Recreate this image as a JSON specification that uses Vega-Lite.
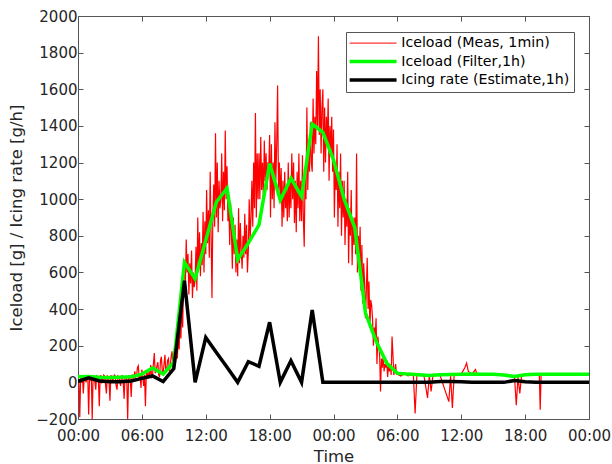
{
  "$schema": "https://vega.github.io/schema/vega-lite/v6.json",
  "width": 511,
  "height": 403,
  "autosize": {"type": "none"},
  "padding": {"left": 78, "top": 16, "right": 23, "bottom": 45},
  "background": "white",
  "config": {
    "view": {"stroke": null},
    "font": "DejaVu Sans",
    "axis": {
      "domainColor": "#555555",
      "tickColor": "#555555",
      "labelColor": "#262626",
      "titleColor": "#262626",
      "labelFont": "DejaVu Sans",
      "titleFont": "DejaVu Sans",
      "labelFontSize": 15,
      "titleFontSize": 16.5,
      "titleFontWeight": "normal",
      "grid": false,
      "tickSize": -5,
      "domainWidth": 1,
      "tickWidth": 1
    }
  },
  "datasets": {
    "meas": [
      {"t":0,"v":35},{"t":5,"v":10},{"t":10,"v":-190},{"t":15,"v":30},{"t":20,"v":5},{"t":25,"v":40},{"t":30,"v":-60},{"t":35,"v":30},{"t":40,"v":35},{"t":45,"v":0},{"t":50,"v":20},{"t":55,"v":40},
      {"t":60,"v":-175},{"t":65,"v":30},{"t":70,"v":10},{"t":75,"v":35},{"t":80,"v":-200},{"t":85,"v":30},{"t":90,"v":35},{"t":95,"v":5},{"t":100,"v":-40},{"t":105,"v":35},{"t":110,"v":30},{"t":115,"v":15},
      {"t":120,"v":-130},{"t":125,"v":35},{"t":130,"v":35},{"t":135,"v":0},{"t":140,"v":10},{"t":145,"v":40},{"t":150,"v":35},{"t":155,"v":-10},{"t":160,"v":-60},{"t":165,"v":35},{"t":170,"v":30},{"t":175,"v":10},
      {"t":180,"v":-100},{"t":185,"v":35},{"t":190,"v":35},{"t":195,"v":5},{"t":200,"v":20},{"t":205,"v":40},{"t":210,"v":35},{"t":215,"v":-20},{"t":220,"v":-40},{"t":225,"v":35},{"t":230,"v":30},{"t":235,"v":10},
      {"t":240,"v":-20},{"t":245,"v":35},{"t":250,"v":35},{"t":255,"v":0},{"t":260,"v":-90},{"t":265,"v":30},{"t":270,"v":30},{"t":275,"v":15},{"t":280,"v":-200},{"t":285,"v":35},{"t":290,"v":35},{"t":295,"v":10},
      {"t":300,"v":-80},{"t":305,"v":40},{"t":310,"v":40},{"t":315,"v":20},{"t":320,"v":60},{"t":325,"v":30},{"t":330,"v":35},{"t":335,"v":80},{"t":340,"v":90},{"t":345,"v":20},{"t":350,"v":40},{"t":355,"v":-30},
      {"t":360,"v":70},{"t":365,"v":30},{"t":370,"v":-20},{"t":375,"v":40},{"t":380,"v":-130},{"t":385,"v":50},{"t":390,"v":50},{"t":395,"v":20},{"t":400,"v":60},{"t":405,"v":40},{"t":410,"v":95},{"t":415,"v":30},
      {"t":420,"v":40},{"t":425,"v":100},{"t":430,"v":160},{"t":435,"v":50},{"t":440,"v":60},{"t":445,"v":90},{"t":450,"v":110},{"t":455,"v":40},{"t":460,"v":30},{"t":465,"v":120},{"t":470,"v":140},{"t":475,"v":60},
      {"t":480,"v":50},{"t":485,"v":100},{"t":490,"v":150},{"t":495,"v":60},{"t":500,"v":70},{"t":505,"v":120},{"t":510,"v":130},{"t":515,"v":60},{"t":520,"v":90},{"t":525,"v":140},{"t":530,"v":170},{"t":535,"v":80},
      {"t":540,"v":80},{"t":545,"v":150},{"t":550,"v":110},{"t":555,"v":200},{"t":560,"v":130},{"t":565,"v":260},{"t":570,"v":180},{"t":575,"v":330},{"t":580,"v":240},{"t":585,"v":420},{"t":590,"v":300},{"t":595,"v":560},
      {"t":600,"v":640},{"t":605,"v":520},{"t":610,"v":780},{"t":615,"v":600},{"t":620,"v":700},{"t":625,"v":480},{"t":630,"v":650},{"t":635,"v":540},{"t":640,"v":720},{"t":645,"v":460},{"t":650,"v":600},{"t":655,"v":520},
      {"t":660,"v":560},{"t":665,"v":740},{"t":670,"v":500},{"t":675,"v":900},{"t":680,"v":620},{"t":685,"v":820},{"t":690,"v":580},{"t":695,"v":760},{"t":700,"v":640},{"t":705,"v":930},{"t":710,"v":600},{"t":715,"v":880},
      {"t":720,"v":700},{"t":725,"v":1050},{"t":730,"v":760},{"t":735,"v":940},{"t":740,"v":680},{"t":745,"v":1150},{"t":750,"v":820},{"t":755,"v":460},{"t":760,"v":900},{"t":765,"v":1080},{"t":770,"v":850},{"t":775,"v":1360},
      {"t":780,"v":900},{"t":785,"v":1200},{"t":790,"v":820},{"t":795,"v":1100},{"t":800,"v":950},{"t":805,"v":1000},{"t":810,"v":1250},{"t":815,"v":880},{"t":820,"v":1150},{"t":825,"v":940},{"t":830,"v":1375},{"t":835,"v":1000},
      {"t":840,"v":1180},{"t":845,"v":880},{"t":850,"v":1000},{"t":855,"v":750},{"t":860,"v":980},{"t":865,"v":820},{"t":870,"v":620},{"t":875,"v":900},{"t":880,"v":700},{"t":885,"v":860},{"t":890,"v":600},{"t":895,"v":780},
      {"t":900,"v":580},{"t":905,"v":950},{"t":910,"v":650},{"t":915,"v":870},{"t":920,"v":720},{"t":925,"v":620},{"t":930,"v":800},{"t":935,"v":680},{"t":940,"v":920},{"t":945,"v":700},{"t":950,"v":860},{"t":955,"v":600},
      {"t":960,"v":720},{"t":965,"v":1000},{"t":970,"v":780},{"t":975,"v":900},{"t":980,"v":1100},{"t":985,"v":850},{"t":990,"v":1200},{"t":995,"v":950},{"t":1000,"v":1470},{"t":1005,"v":900},{"t":1010,"v":1250},{"t":1015,"v":1000},
      {"t":1020,"v":1250},{"t":1025,"v":1000},{"t":1030,"v":1340},{"t":1035,"v":1050},{"t":1040,"v":1200},{"t":1045,"v":1000},{"t":1050,"v":1320},{"t":1055,"v":1100},{"t":1060,"v":1250},{"t":1065,"v":1050},{"t":1070,"v":1200},{"t":1075,"v":1150},
      {"t":1080,"v":1350},{"t":1085,"v":900},{"t":1090,"v":1300},{"t":1095,"v":1000},{"t":1100,"v":1200},{"t":1105,"v":950},{"t":1110,"v":1420},{"t":1115,"v":1100},{"t":1120,"v":1300},{"t":1125,"v":1620},{"t":1130,"v":1050},{"t":1135,"v":1200},
      {"t":1140,"v":1000},{"t":1145,"v":1170},{"t":1150,"v":850},{"t":1155,"v":1100},{"t":1160,"v":900},{"t":1165,"v":1150},{"t":1170,"v":950},{"t":1175,"v":1050},{"t":1180,"v":880},{"t":1185,"v":1200},{"t":1190,"v":900},{"t":1195,"v":1100},
      {"t":1200,"v":950},{"t":1205,"v":1250},{"t":1210,"v":1000},{"t":1215,"v":1200},{"t":1220,"v":870},{"t":1225,"v":1100},{"t":1230,"v":820},{"t":1235,"v":1150},{"t":1240,"v":950},{"t":1245,"v":1250},{"t":1250,"v":880},{"t":1255,"v":1100},
      {"t":1260,"v":880},{"t":1265,"v":1240},{"t":1270,"v":900},{"t":1275,"v":740},{"t":1280,"v":1150},{"t":1285,"v":1000},{"t":1290,"v":1500},{"t":1295,"v":1050},{"t":1300,"v":1300},{"t":1305,"v":1150},{"t":1310,"v":1420},{"t":1315,"v":1200},
      {"t":1320,"v":1150},{"t":1325,"v":1550},{"t":1330,"v":1250},{"t":1335,"v":1450},{"t":1340,"v":1300},{"t":1345,"v":1700},{"t":1350,"v":1400},{"t":1355,"v":1890},{"t":1360,"v":1350},{"t":1365,"v":1600},{"t":1370,"v":1250},{"t":1375,"v":1500},
      {"t":1380,"v":1600},{"t":1385,"v":1150},{"t":1390,"v":1500},{"t":1395,"v":1200},{"t":1400,"v":1450},{"t":1405,"v":1300},{"t":1410,"v":1550},{"t":1415,"v":1100},{"t":1420,"v":1400},{"t":1425,"v":1250},{"t":1430,"v":1450},{"t":1435,"v":1150},
      {"t":1440,"v":1380},{"t":1445,"v":900},{"t":1450,"v":1200},{"t":1455,"v":1050},{"t":1460,"v":1300},{"t":1465,"v":850},{"t":1470,"v":1150},{"t":1475,"v":950},{"t":1480,"v":1250},{"t":1485,"v":800},{"t":1490,"v":1100},{"t":1495,"v":900},
      {"t":1500,"v":1100},{"t":1505,"v":750},{"t":1510,"v":1000},{"t":1515,"v":850},{"t":1520,"v":1150},{"t":1525,"v":650},{"t":1530,"v":950},{"t":1535,"v":800},{"t":1540,"v":1050},{"t":1545,"v":640},{"t":1550,"v":900},{"t":1555,"v":750},
      {"t":1560,"v":900},{"t":1565,"v":700},{"t":1570,"v":1250},{"t":1575,"v":600},{"t":1580,"v":800},{"t":1585,"v":700},{"t":1590,"v":850},{"t":1595,"v":500},{"t":1600,"v":750},{"t":1605,"v":430},{"t":1610,"v":650},{"t":1615,"v":550},
      {"t":1620,"v":350},{"t":1625,"v":500},{"t":1630,"v":680},{"t":1635,"v":400},{"t":1640,"v":550},{"t":1645,"v":300},{"t":1650,"v":450},{"t":1655,"v":420},{"t":1660,"v":350},{"t":1665,"v":200},{"t":1670,"v":300},{"t":1675,"v":250},
      {"t":1680,"v":350},{"t":1685,"v":100},{"t":1690,"v":250},{"t":1695,"v":200},{"t":1700,"v":150},{"t":1705,"v":-50},{"t":1710,"v":130},{"t":1715,"v":80},{"t":1720,"v":150},{"t":1725,"v":60},{"t":1730,"v":100},{"t":1735,"v":80},
      {"t":1740,"v":120},{"t":1745,"v":30},{"t":1750,"v":90},{"t":1755,"v":60},{"t":1760,"v":100},{"t":1765,"v":40},{"t":1770,"v":250},{"t":1775,"v":150},{"t":1780,"v":40},{"t":1785,"v":70},{"t":1790,"v":100},{"t":1795,"v":45},
      {"t":1800,"v":45},{"t":1820,"v":35},{"t":1840,"v":50},{"t":1860,"v":35},{"t":1890,"v":45},{"t":1900,"v":-170},{"t":1910,"v":40},{"t":1950,"v":35},{"t":1970,"v":-85},{"t":1980,"v":40},{"t":1990,"v":-50},{"t":2000,"v":35},
      {"t":2040,"v":40},{"t":2090,"v":-105},{"t":2100,"v":35},{"t":2110,"v":-140},{"t":2120,"v":40},{"t":2160,"v":45},{"t":2180,"v":80},{"t":2190,"v":105},{"t":2200,"v":60},{"t":2220,"v":45},{"t":2240,"v":70},{"t":2250,"v":40},
      {"t":2280,"v":45},{"t":2340,"v":40},{"t":2400,"v":40},{"t":2460,"v":35},{"t":2470,"v":-125},{"t":2480,"v":30},{"t":2490,"v":-60},{"t":2500,"v":35},{"t":2520,"v":40},{"t":2600,"v":40},{"t":2605,"v":-150},{"t":2610,"v":40},
      {"t":2640,"v":40},{"t":2880,"v":40}
    ],
    "filt": [
      {"t":0,"v":30},{"t":60,"v":32},{"t":120,"v":28},{"t":180,"v":26},{"t":240,"v":28},{"t":300,"v":30},{"t":360,"v":45},{"t":420,"v":78},
      {"t":480,"v":45},{"t":540,"v":110},{"t":600,"v":655},{"t":660,"v":565},{"t":720,"v":775},{"t":780,"v":985},{"t":840,"v":1060},
      {"t":900,"v":670},{"t":960,"v":760},{"t":1020,"v":860},{"t":1080,"v":1195},{"t":1140,"v":995},{"t":1200,"v":1115},{"t":1260,"v":1015},
      {"t":1320,"v":1410},{"t":1380,"v":1365},{"t":1440,"v":1215},{"t":1500,"v":1000},{"t":1560,"v":845},{"t":1620,"v":380},{"t":1680,"v":225},
      {"t":1740,"v":105},{"t":1800,"v":50},{"t":1860,"v":45},{"t":1920,"v":42},{"t":1980,"v":38},{"t":2040,"v":42},{"t":2100,"v":43},
      {"t":2160,"v":44},{"t":2220,"v":45},{"t":2280,"v":44},{"t":2340,"v":44},{"t":2400,"v":40},{"t":2460,"v":32},{"t":2520,"v":42},
      {"t":2580,"v":44},{"t":2640,"v":44},{"t":2700,"v":44},{"t":2760,"v":44},{"t":2820,"v":44},{"t":2880,"v":44}
    ],
    "rate": [
      {"t":0,"v":5},{"t":60,"v":25},{"t":120,"v":8},{"t":180,"v":4},{"t":240,"v":4},{"t":300,"v":8},{"t":360,"v":22},{"t":420,"v":35},
      {"t":480,"v":4},{"t":540,"v":75},{"t":600,"v":555},{"t":660,"v":0},{"t":720,"v":245},{"t":780,"v":163},{"t":840,"v":82},
      {"t":900,"v":0},{"t":960,"v":113},{"t":1020,"v":88},{"t":1080,"v":328},{"t":1140,"v":0},{"t":1200,"v":118},{"t":1260,"v":0},
      {"t":1320,"v":395},{"t":1380,"v":0},{"t":1440,"v":0},{"t":1500,"v":0},{"t":1560,"v":0},{"t":1620,"v":0},{"t":1680,"v":0},
      {"t":1740,"v":0},{"t":1800,"v":0},{"t":1860,"v":0},{"t":1920,"v":0},{"t":1980,"v":0},{"t":2040,"v":5},{"t":2100,"v":5},
      {"t":2160,"v":3},{"t":2220,"v":0},{"t":2280,"v":0},{"t":2340,"v":0},{"t":2400,"v":0},{"t":2460,"v":10},{"t":2520,"v":3},
      {"t":2580,"v":0},{"t":2640,"v":0},{"t":2700,"v":0},{"t":2760,"v":0},{"t":2820,"v":0},{"t":2880,"v":0}
    ]
  },
  "layer": [
    {
      "data": {"name": "meas"},
      "mark": {"type": "line", "strokeWidth": 1.2, "clip": true},
      "encoding": {
        "x": {"field": "t", "type": "quantitative", "scale": {"domain": [0, 2880], "nice": false, "zero": false},
              "axis": {"orient": "bottom", "values": [0,360,720,1080,1440,1800,2160,2520,2880], "title": "Time",
                       "labelExpr": "(floor(datum.value/60) % 24 < 10 ? '0' : '') + (floor(datum.value/60) % 24) + ':00'",
                       "labelPadding": 14, "titlePadding": 5, "labelFlush": false}},
        "y": {"field": "v", "type": "quantitative", "scale": {"domain": [-200, 2000], "nice": false, "zero": false},
              "axis": {"orient": "left", "values": [-200,0,200,400,600,800,1000,1200,1400,1600,1800,2000], "format": "d",
                       "title": "Iceload [g] / Icing rate [g/h]", "labelPadding": 6, "titlePadding": 11}},
        "color": {"datum": "Iceload (Meas, 1min)", "type": "nominal",
                  "scale": {"domain": ["Iceload (Meas, 1min)", "Iceload (Filter,1h)", "Icing rate (Estimate,1h)"],
                            "range": ["#ff0000", "#00ff00", "#000000"]},
                  "legend": {"orient": "none", "legendX": 268, "legendY": 16, "title": null,
                             "symbolType": "stroke", "symbolSize": 2200, "symbolStrokeWidth": 3,
                             "symbolOffset": 16, "labelOffset": 21,
                             "labelFontSize": 14.2, "labelColor": "#000000", "labelFont": "DejaVu Sans", "labelLimit": 400,
                             "strokeColor": "#555555", "fillColor": "white", "padding": 4,
                             "rowPadding": 3.5,
                             "encode": {"symbols": {"update": {"strokeWidth": {"signal": "datum.value == 'Iceload (Meas, 1min)' ? 1 : 3.5"}}}}}}
      }
    },
    {
      "data": {"name": "filt"},
      "mark": {"type": "line", "strokeWidth": 3.5, "clip": true},
      "encoding": {
        "x": {"field": "t", "type": "quantitative",
              "axis": {"orient": "top", "values": [0,360,720,1080,1440,1800,2160,2520,2880], "labels": false, "title": null}},
        "y": {"field": "v", "type": "quantitative",
              "axis": {"orient": "right", "values": [-200,0,200,400,600,800,1000,1200,1400,1600,1800,2000], "labels": false, "title": null}},
        "color": {"datum": "Iceload (Filter,1h)", "type": "nominal"}
      }
    },
    {
      "data": {"name": "rate"},
      "mark": {"type": "line", "strokeWidth": 3.5, "clip": true},
      "encoding": {
        "x": {"field": "t", "type": "quantitative", "axis": null},
        "y": {"field": "v", "type": "quantitative", "axis": null},
        "color": {"datum": "Icing rate (Estimate,1h)", "type": "nominal"}
      }
    }
  ],
  "resolve": {"axis": {"x": "independent", "y": "independent"}}
}
